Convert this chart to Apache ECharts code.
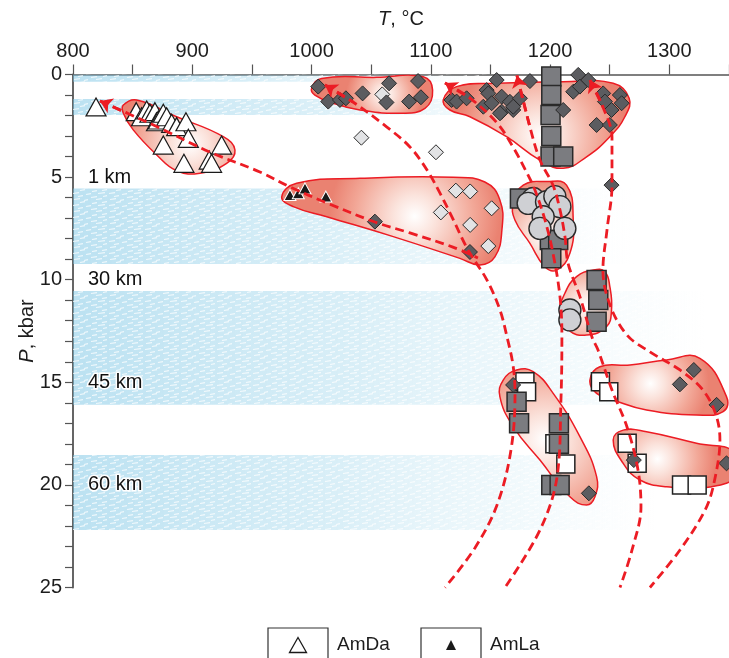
<!DOCTYPE html>
<html>
<head>
<meta charset="utf-8">
<script src="https://cdn.jsdelivr.net/npm/echarts@6/dist/echarts.min.js"></script>
<style>
  html, body { margin: 0; padding: 0; background: #fff; }
  #chart { width: 729px; height: 658px; }
</style>
</head>
<body>
<div id="chart"></div>
<script>
// ---- Measured P–T points: [T (°C), P (kbar)] ----
const amDa = [[819.3,1.58],[853,1.81],[857.5,2.06],[861.8,1.73],[864.5,1.89],[868.7,1.81],[870,2.3],[871.5,2.22],
  [875.7,1.89],[878.5,2.06],[882.7,2.38],[886.9,2.54],[894.7,2.3],[896.7,3.11],[875.7,3.44],[924.6,3.44],
  [893,4.33],[914.2,4.17],[916.2,4.33]];
const amLa = [[981.9,5.87],[988.9,5.79],[994.5,5.55],[1012,5.95]];
const darkDiamonds = [
  [1005.6,0.59],[1014,1.32],[1023.8,1.24],[1028.8,1.16],[1042.8,0.92],[1065,0.43],[1062.8,1.36],[1089.3,0.32],[1081.8,1.32],[1091.7,1.11],
  [1117.4,1.24],[1121.6,1.32],[1130,1.16],[1155.2,0.27],[1146.8,0.76],[1148.2,0.92],[1144,1.57],[1151,1.4],[1159.4,1.08],[1159.4,1.81],
  [1166.3,1.33],[1169.1,1.73],[1174.7,1.16],[1158,1.89],[1169.1,1.57],[1183.1,0.32],[1211,1.73],[1219.4,0.84],[1223.6,0.02],[1225,0.59],
  [1232,0.27],[1244.5,0.92],[1246,1.32],[1251.5,1.73],[1258.5,1.0],[1260,1.4],[1239,2.46],[1250.1,2.46],
  [1053.1,7.17],[1132.8,8.65],[1251.5,5.39],[1169,15.13],[1232.5,20.41],[1308.8,15.1],[1320.5,14.4],[1339.6,16.1],
  [1270.2,18.79],[1347.9,18.95]];
const lightDiamonds = [[1059.3,0.97],[1041.8,3.08],[1104.3,3.79],[1121,5.66],[1133,5.7],[1151,6.52],[1108.4,6.72],[1133,7.33],[1148.2,8.36]];
const whiteSquares = [[1178.9,14.97],[1180.3,15.46],[1204,18.0],[1213.2,18.98],[1242.2,14.97],[1249.2,15.46],[1264.6,17.97],[1273,18.95],[1310.2,20.0],[1323.3,20.0]];
const darkSquares = [[1201,0.1],[1201,1.0],[1200.4,1.97],[1201,3.0],[1200.4,4.0],[1211,4.0],[1174.7,6.04],[1199.8,8.07],[1206.8,8.07],
  [1201,8.96],[1239,10.01],[1240.4,10.99],[1239,12.05],[1171.9,15.95],[1174,17.0],[1207.4,17.0],[1207.4,18.0],[1201,20.0],[1208,20.0]];
const circles = [[1185.8,6.04],[1181.6,6.28],[1197,6.2],[1204,5.95],[1208.2,6.44],[1194.2,6.93],[1191.5,7.5],[1212.4,7.5],[1216.6,11.48],[1216.6,11.96]];

// ---- Outlines of the point groups (T, P vertices) ----
const envelopes = [
  [[842.2,1.49],[853.4,1.24],[886.9,2.06],[926,3.03],[935.8,3.68],[928.8,4.33],[906.5,4.81],[886.9,4.69],[870.2,3.92],[850.5,2.7],[842.2,1.89]],
  [[1000.1,0.67],[1008.5,0.19],[1054.6,0.14],[1093.6,0.11],[1101.5,0.76],[1095.1,1.65],[1074.1,1.89],[1040.6,1.73],[1018.2,1.4],[1002.8,1.0]],
  [[1110.4,1.24],[1121.6,0.59],[1155.1,0.43],[1211,0.35],[1252.9,0.43],[1266.3,1.16],[1262.7,2.06],[1250.1,3.03],[1230.6,4.01],[1211,4.57],[1191.4,4.17],[1163.5,3.03],[1132.8,2.06],[1116,1.73]],
  [[975,5.96],[987.5,5.3],[1040.6,5.06],[1118.8,5.01],[1145.3,5.24],[1157.9,6.11],[1159.6,7.58],[1153.7,8.89],[1141.2,9.28],[1124.4,8.96],[1068.5,7.9],[1012.7,6.93],[984.7,6.44]],
  [[1169.1,6.28],[1177.5,5.39],[1197.1,5.22],[1213.8,5.39],[1219.4,7.09],[1216.6,8.71],[1205.5,9.53],[1195.6,9.37],[1183.1,8.23],[1170.5,7.09]],
  [[1236.1,9.53],[1245.9,9.61],[1250.1,10.34],[1251.5,11.48],[1247.3,12.29],[1230.6,12.7],[1215.2,12.45],[1208.2,11.64],[1212.4,10.66],[1222.2,9.85]],
  [[1171.9,14.4],[1185.8,14.48],[1202.6,15.54],[1225,17.65],[1239,19.6],[1237.6,20.58],[1230.6,20.98],[1216.6,20.58],[1191.5,18.79],[1169.1,17.16],[1157.9,15.7],[1160.7,14.89]],
  [[1233.4,14.89],[1241.7,14.24],[1266.9,14.16],[1297.7,13.91],[1325.6,13.83],[1347.9,15.7],[1345.1,16.43],[1322.8,16.59],[1280.9,16.35],[1252.9,15.86],[1239,15.54]],
  [[1252.9,17.81],[1261.3,17.33],[1280.9,17.41],[1322.8,17.97],[1354.9,18.4],[1356.6,19.52],[1334,20.1],[1297.7,20.09],[1275.3,19.76],[1261.3,18.95]]
];

// ---- Decompression paths, listed from the arrow tip downward ----
const paths = [
  [[822.6,1.29],[845.3,1.88],[872.9,2.61],[914.8,3.78],[956.7,4.75],[981.9,5.48],[1012.9,6.26],[1053.1,7.19],[1082.5,7.72],[1118.5,8.41],[1139.5,8.94]],
  [[1011.3,0.51],[1034.7,1.34],[1063.2,2.56],[1082.5,3.53],[1096.8,4.65],[1107.7,5.78],[1117.7,6.94],[1131.2,8.55],[1147.1,10.02],[1158,11.48],[1163.9,12.79],[1168.9,14.16],[1170.6,15.52],[1167.2,18.3],[1155.5,20.98],[1137,23.07],[1111.9,25]],
  [[1111.9,0.41],[1132.8,1.15],[1155.5,2.36],[1168.9,3.53],[1180.6,4.8],[1187.3,5.63],[1195.7,7.09],[1202.4,8.7],[1208.3,10.84],[1209.9,12.79],[1209.1,15.86],[1205.8,19.62],[1191.5,22.2],[1162.2,25]],
  [[1172.2,0.05],[1183.1,2.56],[1191.5,4.17],[1202.4,5.39],[1208.3,6.6],[1212.5,7.92],[1215,9.19],[1225.1,10.84],[1235.1,12.79],[1240.2,13.43],[1251.9,15.38],[1264.5,17.18],[1273.7,19.27],[1276.2,21.08],[1268.7,23.17],[1258.6,25]],
  [[1233.4,0.27],[1244.3,1.58],[1251.9,3.05],[1251.9,5.39],[1247.7,7.58],[1244.3,9.53],[1250.2,11.23],[1264.5,12.7],[1283.7,13.52],[1308.9,14.4],[1328.2,15.38],[1339.1,16.59],[1342.4,17.81],[1337.4,19.91],[1329.9,21.23],[1308.9,23.17],[1283.7,25]]
];

// ---- Crustal levels: [P top, P bottom, T where the shading fades out] ----
const bands = [[0,0.35,1150],[1.2,1.97,1230],[5.55,9.23,1270],[10.55,16.1,1330],[18.54,22.2,1290]];
const depthLabels = [[5,'1 km'],[10,'30 km'],[15,'45 km'],[20,'60 km']];
const legendItems = ['AmDa','AmLa'];

// ---- Styling ----
const RED = '#ec1c24';
const INK = '#1d1d1d';
const FONT = 'Liberation Sans, Arial, sans-serif';
// highlight centres of each outline's gradient (relative to its box)
const glow = [[0.6,0.6],[0.6,0.5],[0.52,0.62],[0.6,0.45],[0.53,0.6],[0.5,0.55],[0.46,0.52],[0.44,0.47],[0.35,0.5]];

// light streaky texture laid over the blue levels
function streakTexture() {
  const c = document.createElement('canvas');
  c.width = 36; c.height = 12;
  const g = c.getContext('2d');
  g.strokeStyle = 'rgba(255,255,255,0.75)';
  g.lineWidth = 1.2;
  const marks = [[1,1,6],[14,2,5],[26,1,7],[6,4,5],[19,5,6],[31,4,4],[2,7,6],[12,8,4],[24,7,6],[8,10,5],[20,11,5],[30,10,5]];
  marks.forEach(m => { g.beginPath(); g.moveTo(m[0], m[1] + 0.5); g.lineTo(m[0] + m[2], m[1] - 0.3); g.stroke(); });
  return c;
}
const texture = streakTexture();

const chart = echarts.init(document.getElementById('chart'), null, {renderer: 'canvas'});

function scatter(name, data, symbol, size, color, border, bw, z) {
  return {
    name, type: 'scatter', data, symbol, symbolSize: size, z, clip: false, silent: true,
    itemStyle: {color, borderColor: border, borderWidth: bw, opacity: 1},
    emphasis: {disabled: true}
  };
}

const option = {
  animation: false,
  grid: {left: 73, right: 0, top: 74.5, height: 513, outerBoundsMode: 'none', containLabel: false},
  xAxis: {
    type: 'value', position: 'top', min: 800, max: 1350, interval: 50,
    name: '{i|T}, °C', nameLocation: 'middle', nameGap: 45, nameMoveOverlap: false,
    nameTextStyle: {fontSize: 20, color: INK, fontFamily: FONT, rich: {i: {fontStyle: 'italic', fontSize: 20, color: INK, fontFamily: FONT}}},
    axisLine: {show: true, onZero: false, lineStyle: {color: '#555', width: 1.5}},
    axisTick: {show: true, inside: false, length: 10, lineStyle: {color: '#555', width: 1.2}},
    axisLabel: {margin: 13, fontSize: 20, color: INK, fontFamily: FONT,
      formatter: v => (v % 100 === 0 ? String(v) : '')},
    splitLine: {show: false}
  },
  yAxis: {
    type: 'value', inverse: true, min: 0, max: 25, interval: 1,
    name: '{i|P}, kbar', nameLocation: 'middle', nameGap: 36, nameRotate: 90, nameMoveOverlap: false,
    nameTextStyle: {fontSize: 20, color: INK, fontFamily: FONT, rich: {i: {fontStyle: 'italic', fontSize: 20, color: INK, fontFamily: FONT}}},
    axisLine: {show: true, onZero: false, lineStyle: {color: '#555', width: 1.8}},
    axisTick: {show: true, inside: false, length: 8, lineStyle: {color: '#555', width: 1.2}},
    axisLabel: {margin: 11, fontSize: 20, color: INK, fontFamily: FONT,
      formatter: v => (v % 5 === 0 ? String(v) : '')},
    splitLine: {show: false}
  },
  graphic: [],
  series: [
    {
      type: 'custom', z: 1, silent: true, clip: true,
      data: bands.map((b, i) => [800, b[0], i]),
      renderItem: (params, api) => {
        const b = bands[api.value(2)];
        const p0 = api.coord([800, b[0]]);
        const p1 = api.coord([b[2], b[1]]);
        const shape = {x: p0[0], y: p0[1], width: p1[0] - p0[0], height: p1[1] - p0[1]};
        return {
          type: 'group',
          children: [
            {type: 'rect', shape,
              style: {fill: {type: 'linear', x: 0, y: 0, x2: 1, y2: 0, colorStops: [
                {offset: 0, color: 'rgba(120,196,228,0.5)'},
                {offset: 0.45, color: 'rgba(150,210,234,0.36)'},
                {offset: 0.8, color: 'rgba(190,228,242,0.18)'},
                {offset: 1, color: 'rgba(220,240,248,0)'}]}}},
            {type: 'rect', shape, style: {fill: {image: texture, repeat: 'repeat'}}}
          ]
        };
      }
    },
    {
      type: 'custom', z: 2, silent: true, clip: true,
      data: envelopes.map((e, i) => [e[0][0], e[0][1], i]),
      renderItem: (params, api) => {
        const i = api.value(2);
        const pts = envelopes[i].map(p => api.coord(p));
        return {
          type: 'polygon',
          shape: {points: pts, smooth: 0.45},
          style: {
            fill: {type: 'radial', x: glow[i][0], y: glow[i][1], r: 0.95, colorStops: [
              {offset: 0, color: '#ffffff'},
              {offset: 0.25, color: '#fbe3dc'},
              {offset: 0.7, color: '#f2a797'},
              {offset: 1, color: '#ea8271'}]},
            stroke: RED, lineWidth: 1.5
          }
        };
      }
    },
    scatter('AmDa', amDa, 'triangle', [20, 18], '#ffffff', '#1a1a1a', 1.2, 3),
    scatter('AmLa', amLa, 'triangle', [12, 11], '#1a1a1a', '#ffffff', 1, 3),
    scatter('light', lightDiamonds, 'diamond', 15, '#e2e3e5', '#2a2a2a', 1, 3),
    scatter('white', whiteSquares, 'rect', 18, '#ffffff', '#222', 1.5, 3),
    scatter('dark', darkSquares, 'rect', 19, '#7b7c80', '#2a2a2a', 1.5, 3),
    scatter('circle', circles, 'circle', 22, '#cfd0d4', '#2a2a2a', 1.4, 3),
    scatter('diamond', darkDiamonds, 'diamond', 15, '#5b5c60', '#2a2a2a', 1, 3),
    ...paths.map(p => ({
      type: 'line', data: p, z: 4, silent: true, smooth: 0.35, symbol: 'none', clip: true,
      lineStyle: {color: RED, width: 2.8, type: [9, 5]},
      emphasis: {disabled: true}
    })),
    {
      type: 'lines', coordinateSystem: 'cartesian2d', z: 4, silent: true,
      symbol: ['arrow', 'none'], symbolSize: [12, 0],
      lineStyle: {color: RED, width: 2.8, opacity: 1, type: [9, 5]},
      data: paths.map(p => ({coords: [p[0], p[1]]}))
    },
    {
      type: 'scatter', z: 6, silent: true, symbolSize: 0.01, clip: false,
      itemStyle: {opacity: 1},
      data: depthLabels.map(d => [812.5, d[0], d[1]]),
      label: {show: true, position: 'right', distance: 0, formatter: p => p.value[2], opacity: 1,
        fontSize: 20, color: '#111', fontFamily: FONT, textBorderColor: '#fff', textBorderWidth: 3}
    }
  ]
};

// legend boxes beneath the plot
const legendX = [268, 421];
legendItems.forEach((name, i) => {
  const x = legendX[i];
  option.graphic.push({type: 'rect', shape: {x: x, y: 628, width: 60, height: 36},
    style: {fill: '#fff', stroke: '#333', lineWidth: 1.2}});
  const cx = x + 30, cy = 645;
  const h = i === 0 ? 15 : 10, w = i === 0 ? 17 : 10;
  option.graphic.push({type: 'polygon', shape: {points: [[cx, cy - h / 2], [cx - w / 2, cy + h / 2], [cx + w / 2, cy + h / 2]]},
    style: i === 0 ? {fill: '#fff', stroke: '#1a1a1a', lineWidth: 1.3} : {fill: '#1a1a1a'}});
  option.graphic.push({type: 'text', x: x + 69, y: cy, style: {text: name, fontSize: 19, fill: INK,
    fontFamily: FONT, verticalAlign: 'middle', align: 'left'}});
});

chart.setOption(option);
</script>
</body>
</html>
